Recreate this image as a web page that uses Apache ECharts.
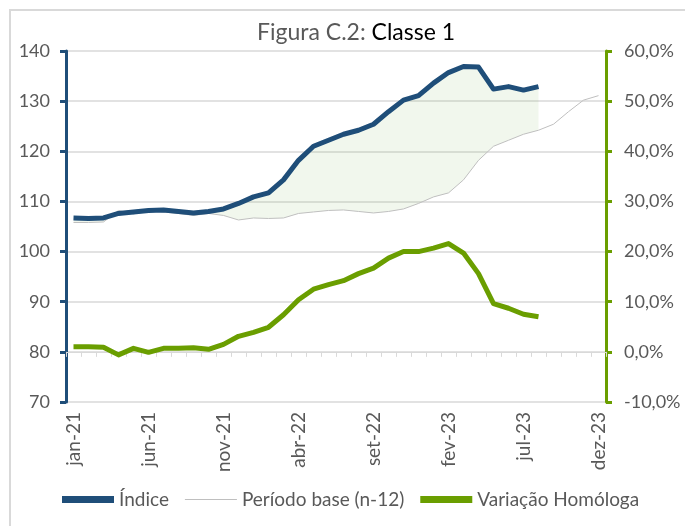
<!DOCTYPE html>
<html>
<head>
<meta charset="utf-8">
<script src="https://cdn.jsdelivr.net/npm/echarts@6/dist/echarts.min.js"></script>
<style>
  html, body { margin: 0; padding: 0; background: #fff; }
  #classeChart { width: 685px; height: 526px; }
</style>
</head>
<body>
<div id="classeChart"></div>
<script>
  // meses jan-21 .. dez-23
  var meses = ['jan-21', 'fev-21', 'mar-21', 'abr-21', 'mai-21', 'jun-21', 'jul-21', 'ago-21', 'set-21', 'out-21', 'nov-21', 'dez-21',
    'jan-22', 'fev-22', 'mar-22', 'abr-22', 'mai-22', 'jun-22', 'jul-22', 'ago-22', 'set-22', 'out-22', 'nov-22', 'dez-22',
    'jan-23', 'fev-23', 'mar-23', 'abr-23', 'mai-23', 'jun-23', 'jul-23', 'ago-23', 'set-23', 'out-23', 'nov-23', 'dez-23']

  // Índice (jan-21 .. ago-23)
  var indice = [106.7, 106.6, 106.7, 107.6, 107.9, 108.2, 108.3, 108.0, 107.7, 108.0, 108.5, 109.6,
    110.9, 111.7, 114.3, 118.2, 121.0, 122.2, 123.4, 124.2, 125.4, 127.9, 130.2, 131.1,
    133.6, 135.7, 136.9, 136.8, 132.4, 132.9, 132.2, 132.9]

  // Período base (n-12)
  var periodoBase = [105.8, 105.8, 105.9, 108.2, 107.5, 108.3, 107.9, 107.6, 107.2, 107.6, 107.2, 106.3,
    106.7, 106.6, 106.7, 107.6, 107.9, 108.2, 108.3, 108.0, 107.7, 108.0, 108.5, 109.6,
    110.9, 111.7, 114.3, 118.2, 121.0, 122.2, 123.4, 124.2, 125.4, 127.9, 130.2, 131.1]

  // Variação Homóloga (%)
  var variacao = [1.0, 1.0, 0.9, -0.6, 0.7, -0.1, 0.7, 0.7, 0.8, 0.5, 1.5, 3.1,
    3.9, 4.9, 7.4, 10.4, 12.5, 13.4, 14.2, 15.6, 16.7, 18.7, 20.0, 20.0,
    20.7, 21.6, 19.7, 15.6, 9.6, 8.7, 7.5, 7.0]

  var corIndice = '#1F4E79'
  var corVariacao = '#6A9E00'
  var corTexto = '#595959'
  var fonte = 'Lato'

  // faixa entre período base e índice (área empilhada)
  var faixaBase = indice.map(function (v, i) { return periodoBase[i] })
  var faixaDif = indice.map(function (v, i) { return Math.round((v - periodoBase[i]) * 10) / 10 })

  var chart = echarts.init(document.getElementById('classeChart'))
  chart.setOption({
    animation: false,
    textStyle: { fontFamily: fonte },
    graphic: [{
      type: 'rect',
      shape: { x: 10, y: 10, width: 700, height: 540 },
      style: { fill: 'none', stroke: '#D9D9D9', lineWidth: 2 },
      silent: true
    }],
    title: {
      text: '{a|Figura C.2: }{b|Classe 1}',
      left: 252,
      top: 16,
      textStyle: {
        rich: {
          a: { fontFamily: fonte, fontSize: 23, fontWeight: 'normal', color: corTexto },
          b: { fontFamily: fonte, fontSize: 23, fontWeight: 'normal', color: '#000' }
        }
      }
    },
    grid: {
      left: 66,
      right: 79,
      top: 51,
      bottom: 124
    },
    legend: {
      bottom: 12,
      left: 57,
      itemWidth: 52,
      itemHeight: 7,
      itemGap: 16,
      textStyle: { fontSize: 19, color: corTexto, fontFamily: fonte },
      data: [
        { name: 'Índice', icon: 'rect', itemStyle: { color: corIndice } },
        { name: 'Período base (n-12)', icon: 'path://M0,3L52,3L52,4L0,4Z', itemStyle: { color: '#BFBFBF' } },
        { name: 'Variação Homóloga', icon: 'rect', itemStyle: { color: corVariacao } }
      ]
    },
    xAxis: {
      type: 'category',
      boundaryGap: true,
      data: meses,
      axisLine: { lineStyle: { color: '#D9D9D9', width: 1 } },
      axisTick: { show: true, interval: 0, length: 5, lineStyle: { color: '#D9D9D9' } },
      axisLabel: {
        interval: 4,
        rotate: 90,
        margin: 10,
        fontSize: 19,
        color: corTexto,
        fontFamily: fonte
      },
      splitLine: { show: false }
    },
    yAxis: [{
      type: 'value',
      min: 70,
      max: 140,
      interval: 10,
      axisLine: { show: true, lineStyle: { color: corIndice, width: 3 } },
      axisTick: { show: true, length: 6, lineStyle: { color: corIndice, width: 3 } },
      axisLabel: { margin: 16, fontSize: 18, color: corTexto, fontFamily: fonte },
      splitLine: { show: true, lineStyle: { color: '#D9D9D9', width: 1.5 } }
    }, {
      type: 'value',
      min: -10,
      max: 60,
      interval: 10,
      axisLine: { show: true, lineStyle: { color: corVariacao, width: 3 } },
      axisTick: { show: true, length: 6, lineStyle: { color: corVariacao, width: 3 } },
      axisLabel: {
        margin: 18,
        fontSize: 18,
        color: corTexto,
        fontFamily: fonte,
        formatter: function (v) {
          return v.toFixed(1).replace('.', ',') + '%'
        }
      },
      splitLine: { show: false }
    }],
    series: [{
      name: 'faixaBase',
      type: 'line',
      stack: 'faixa',
      stackStrategy: 'all',
      yAxisIndex: 0,
      data: faixaBase,
      showSymbol: false,
      silent: true,
      lineStyle: { width: 0, opacity: 0 },
      z: 1
    }, {
      name: 'faixaDif',
      type: 'line',
      stack: 'faixa',
      stackStrategy: 'all',
      yAxisIndex: 0,
      data: faixaDif,
      showSymbol: false,
      silent: true,
      lineStyle: { width: 0, opacity: 0 },
      areaStyle: { color: 'rgba(112, 173, 71, 0.14)' },
      z: 1
    }, {
      name: 'Período base (n-12)',
      type: 'line',
      yAxisIndex: 0,
      data: periodoBase,
      showSymbol: false,
      lineStyle: { color: '#BFBFBF', width: 1 },
      itemStyle: { color: '#BFBFBF' },
      z: 2
    }, {
      name: 'Índice',
      type: 'line',
      yAxisIndex: 0,
      data: indice,
      showSymbol: false,
      lineStyle: { color: corIndice, width: 5, join: 'round' },
      itemStyle: { color: corIndice },
      z: 3
    }, {
      name: 'Variação Homóloga',
      type: 'line',
      yAxisIndex: 1,
      data: variacao,
      showSymbol: false,
      lineStyle: { color: corVariacao, width: 5, join: 'round' },
      itemStyle: { color: corVariacao },
      z: 3
    }]
  })
</script>
</body>
</html>
